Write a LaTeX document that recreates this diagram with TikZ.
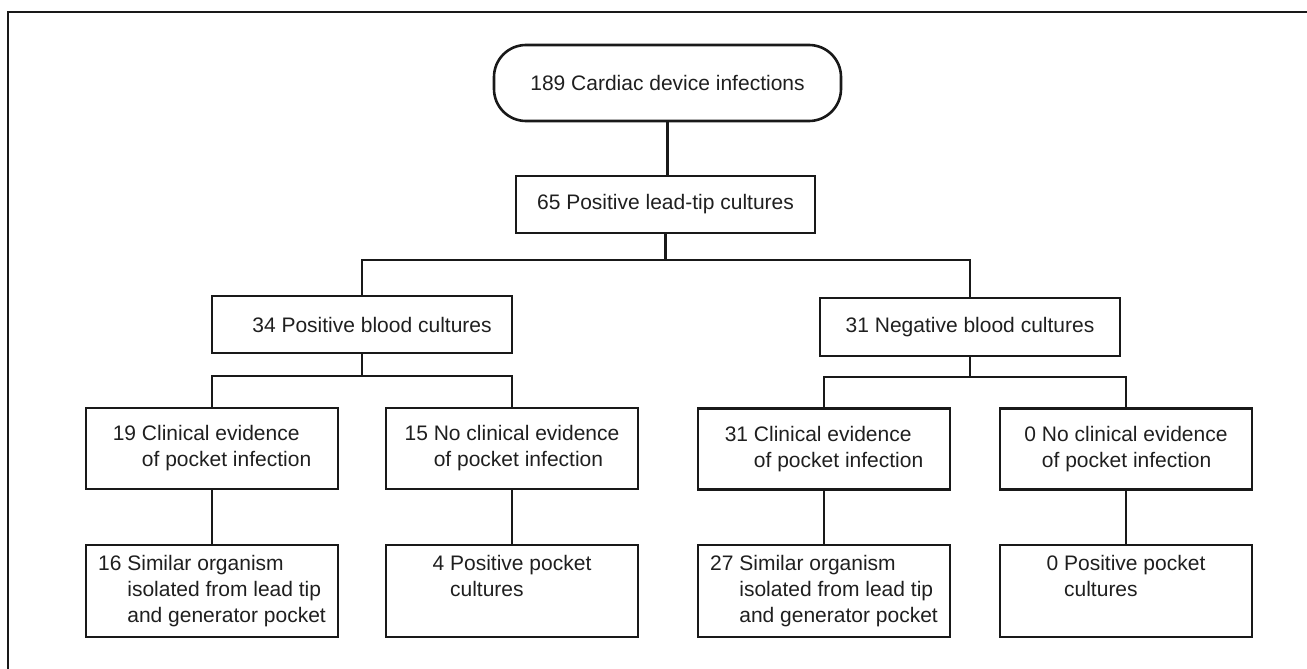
\documentclass[tikz,border=0pt]{standalone}
\usepackage{fontspec}
\setmainfont{Liberation Sans}
\begin{document}
\begin{tikzpicture}[x=1pt,y=-1pt,
  every node/.style={inner sep=0pt, outer sep=0pt, text=black!88,
    font=\fontsize{21}{26}\selectfont},
  box/.style={draw=black!90, line width=2.6pt, minimum width=252pt},
  midbox/.style={box, minimum height=81pt},
  lowbox/.style={box, minimum height=92pt},
  conn/.style={draw=black!90, line width=2.6pt}
]
\useasboundingbox (0,0) rectangle (1307,669);
% frame (top and left only)
\draw[conn] (1307,12) -- (8,12) -- (8,669);

\node[box, rounded corners=32pt, minimum width=347pt, minimum height=76pt] (top) at (667.5,83) {189 Cardiac device infections};
\node[box, minimum width=299pt, minimum height=57pt] (lead) at (665.5,204.5) {65 Positive lead-tip cultures};
\node[box, minimum width=300pt, minimum height=57pt] (pos) at (362,324.5) {\hspace*{20pt}34 Positive blood cultures};
\node[box, minimum width=300pt, minimum height=58pt] (neg) at (970,327) {31 Negative blood cultures};

\node[midbox] (c19) at (212,448.5) {\begin{tabular}{@{}l@{ }l@{}}19 & Clinical evidence\\ & of pocket infection\end{tabular}};
\node[midbox] (n15) at (512,448.5) {\begin{tabular}{@{}l@{ }l@{}}15 & No clinical evidence\\ & of pocket infection\end{tabular}};
\node[midbox] (c31) at (824,449) {\begin{tabular}{@{}l@{ }l@{}}31 & Clinical evidence\\ & of pocket infection\end{tabular}};
\node[midbox] (n0) at (1126,449) {\begin{tabular}{@{}l@{ }l@{}}0 & No clinical evidence\\ & of pocket infection\end{tabular}};

\node[lowbox] (s16) at (212,591) {\begin{tabular}{@{}l@{ }l@{}}16 & Similar organism\\ & isolated from lead tip\\ & and generator pocket\end{tabular}};
\node[lowbox] (p4) at (512,591) {\begin{tabular}{@{}l@{ }l@{}}4 & Positive pocket\\ & cultures\\ & \end{tabular}};
\node[lowbox] (s27) at (824,591) {\begin{tabular}{@{}l@{ }l@{}}27 & Similar organism\\ & isolated from lead tip\\ & and generator pocket\end{tabular}};
\node[lowbox] (p0) at (1126,591) {\begin{tabular}{@{}l@{ }l@{}}0 & Positive pocket\\ & cultures\\ & \end{tabular}};

\coordinate (j1) at (lead.south |- 0,260);
\coordinate (j2) at (pos.south |- 0,376);
\coordinate (j3) at (neg.south |- 0,377);

\draw[conn] (top.south) -- (top.south |- lead.north);
\draw[conn] (lead.south) -- (j1);
\draw[conn] (pos.north) |- (j1) -| (neg.north);
\draw[conn] (pos.south) -- (j2);
\draw[conn] (c19.north) |- (j2) -| (n15.north);
\draw[conn] (neg.south) -- (j3);
\draw[conn] (c31.north) |- (j3) -| (n0.north);
\draw[conn] (c19.south) -- (s16.north);
\draw[conn] (n15.south) -- (p4.north);
\draw[conn] (c31.south) -- (s27.north);
\draw[conn] (n0.south) -- (p0.north);
\end{tikzpicture}
\end{document}
